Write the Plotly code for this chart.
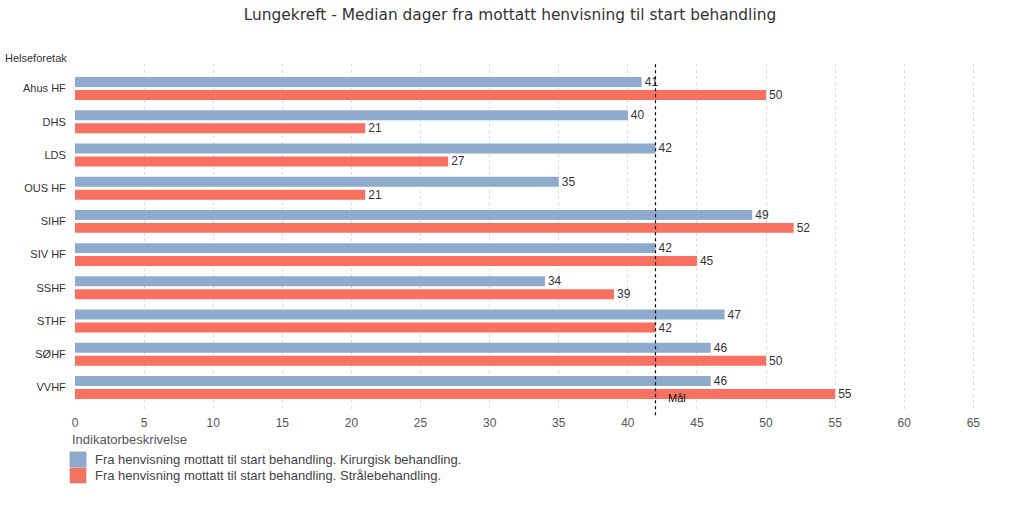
import plotly.graph_objects as go

categories = ["Ahus HF", "DHS", "LDS", "OUS HF", "SIHF", "SIV HF", "SSHF", "STHF", "SØHF", "VVHF"]
kirurgisk = [41, 40, 42, 35, 49, 42, 34, 47, 46, 46]
straale = [50, 21, 27, 21, 52, 45, 39, 42, 50, 55]
series_names = ["Fra henvisning mottatt til start behandling. Kirurgisk behandling.",
                "Fra henvisning mottatt til start behandling. Strålebehandling."]
target = 42
target_label = "Mål"
x_ticks = [0, 5, 10, 15, 20, 25, 30, 35, 40, 45, 50, 55, 60, 65]

BLUE = "#8eaacd"
RED = "#f8705f"
FONT = "Liberation Sans, Arial, sans-serif"
colors = [BLUE, RED]

fig = go.Figure()
for name, vals, col in zip(series_names, [kirurgisk, straale], colors):
    fig.add_trace(go.Bar(
        y=categories, x=vals, orientation="h", name=name,
        marker=dict(color=col, line=dict(width=0)),
        text=[str(v) for v in vals], textposition="outside", constraintext="none",
        textfont=dict(family=FONT, size=12, color="#333333"),
        cliponaxis=False, showlegend=False,
    ))

fig.add_shape(type="line", xref="x", yref="paper", x0=target, x1=target, y0=-0.015, y1=1.005,
              line=dict(color="black", width=1.2, dash="dot"))
fig.add_annotation(x=target, xref="x", y=9.3, yref="y", yshift=-1, text=target_label, showarrow=False,
                   xanchor="left", xshift=11, font=dict(family=FONT, size=11, color="#111111"))
fig.add_annotation(x=0, xref="paper", xshift=-72, y=1.0, yref="paper", yshift=-2, text="Helseforetak",
                   showarrow=False, xanchor="left", yanchor="bottom",
                   font=dict(family=FONT, size=11, color="#333333"))

# legend drawn below the plot
fig.add_annotation(x=0, xref="paper", xshift=-5, y=-0.0867, yref="paper", text="Indikatorbeskrivelse",
                   showarrow=False, xanchor="left", yanchor="middle",
                   font=dict(family=FONT, size=13, color="#555555"))
for i, (name, col) in enumerate(zip(series_names, colors)):
    yc = -0.143 - i * 0.0463
    fig.add_shape(type="rect", xref="paper", yref="paper", x0=-0.0055, x1=0.012,
                  y0=yc - 0.022, y1=yc + 0.022, fillcolor=col, line=dict(color="#999999", width=0.5))
    fig.add_annotation(x=0.0195, xref="paper", y=yc, yref="paper", text=name, showarrow=False,
                       xanchor="left", yanchor="middle",
                       font=dict(family=FONT, size=13, color="#444444"))

fig.update_layout(
    width=1023, height=519,
    margin=dict(l=75, r=22, t=64, b=109, autoexpand=False),
    paper_bgcolor="white", plot_bgcolor="white",
    barmode="group", bargap=0.22, bargroupgap=0.23,
    title=dict(text="Lungekreft - Median dager fra mottatt henvisning til start behandling",
               x=0.4985, xref="container", xanchor="center", y=0.971, yanchor="middle",
               font=dict(family="DejaVu Sans, sans-serif", size=15.4, color="#333333")),
    font=dict(family=FONT, size=12, color="#444444"),
    xaxis=dict(range=[0, 67], tickvals=x_ticks, showgrid=True, gridcolor="#dcdcdc",
               griddash="dot", gridwidth=1, zeroline=False, showline=False,
               ticks="", ticklabelstandoff=4, tickfont=dict(family=FONT, size=12, color="#555555")),
    yaxis=dict(categoryorder="array", categoryarray=categories, range=[9.678, -0.738],
               showgrid=False, zeroline=False, showline=False, ticks="outside", ticklen=6,
               tickcolor="white", tickfont=dict(family=FONT, size=11, color="#333333")),
    showlegend=False,
)
fig.write_html("out.html", config={"displayModeBar": False},
               post_script="document.body.style.margin='0px';")
